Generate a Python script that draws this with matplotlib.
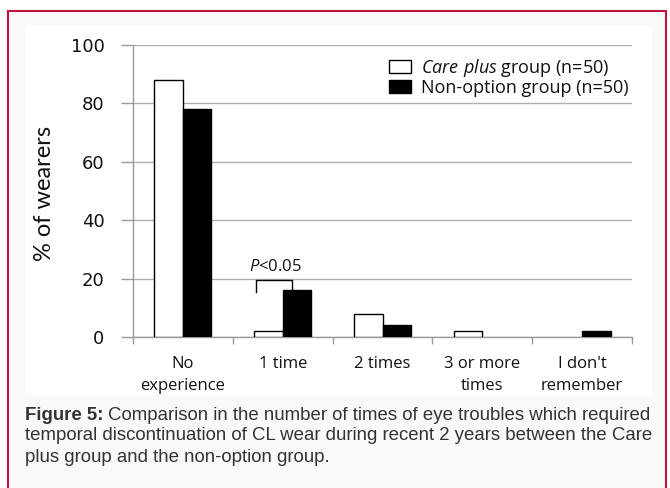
import matplotlib
matplotlib.use("Agg")
import matplotlib.pyplot as plt
from matplotlib.patches import Rectangle, Patch

categories = ["No\nexperience", "1 time", "2 times", "3 or more\ntimes", "I don't\nremember"]
care_plus = [88, 2, 8, 2, 0]
non_option = [78, 16, 4, 0, 2]
yticks = [0, 20, 40, 60, 80, 100]

plt.rcParams['mathtext.fontset'] = 'custom'
plt.rcParams['mathtext.it'] = 'Open Sans:italic'
plt.rcParams['mathtext.rm'] = 'Open Sans'

W, H = 670, 488
fig = plt.figure(figsize=(W / 100, H / 100), dpi=100, facecolor='white')

def fx(px):
    return px / W

def fy(py):
    return 1 - py / H

# outer frame
fig.patches.append(Rectangle((fx(8), fy(520)), fx(666) - fx(8), fy(11) - fy(520),
                             transform=fig.transFigure, facecolor='#fbf8f9',
                             edgecolor='#c0143c', linewidth=1.5, zorder=-2))
# inner white panel
fig.patches.append(Rectangle((fx(26), fy(395)), fx(652) - fx(26), fy(26) - fy(395),
                             transform=fig.transFigure, facecolor='white',
                             edgecolor='none', zorder=-1))

ax = fig.add_axes([fx(133), fy(337), fx(632) - fx(133), fy(45) - fy(337)])
ax.set_facecolor('none')

x = list(range(len(categories)))
bw = 0.285
ax.bar([i - bw / 2 for i in x], care_plus, width=bw, color='white',
       edgecolor='black', linewidth=[1.0 if v > 0 else 0 for v in care_plus], zorder=3)
ax.bar([i + bw / 2 for i in x], non_option, width=bw, color='black',
       edgecolor='black', linewidth=[1.0 if v > 0 else 0 for v in non_option], zorder=3)

ax.set_xlim(-0.5, len(categories) - 0.5)
ax.set_ylim(0, 100)
ax.set_yticks(yticks)
ax.set_yticklabels([str(v) for v in yticks], fontsize=13, family='DejaVu Sans', color='#111111')
ax.yaxis.grid(True, color='#b0b0b0', linewidth=1.0, zorder=0)
ax.set_axisbelow(True)

for s in ['top', 'right']:
    ax.spines[s].set_visible(False)
for s in ['left', 'bottom']:
    ax.spines[s].set_color('#9a9a9a')
    ax.spines[s].set_linewidth(1.0)

ax.tick_params(axis='y', length=9, color='#9a9a9a', width=1.0, pad=11.5)
ax.set_xticks(x)
ax.set_xticklabels(categories, fontsize=12, family='Open Sans', color='#111111', linespacing=1.5)
ax.tick_params(axis='x', length=0, pad=13.5)
ax.set_xticks([i + 0.5 for i in range(-1, len(categories))], minor=True)
ax.tick_params(axis='x', which='minor', length=5, color='#9a9a9a', width=1.0)

ax.set_ylabel('% of wearers', fontsize=17, family='Lato', color='#111111')
ax.yaxis.label.set_va('center')
ax.yaxis.set_label_coords(-0.178, 0.491)

# significance bracket
bx = [0.732, 0.732, 1.093, 1.093]
by = [15.4, 19.5, 19.5, non_option[1]]
ax.plot(bx, by, color='black', lw=1.0, zorder=4)
ax.text(0.923, 24.0, r'$\it{P}$<0.05', ha='center', va='center', fontsize=12,
        family='Open Sans', color='#111111')

handles = [Patch(facecolor='white', edgecolor='black', linewidth=1.0),
           Patch(facecolor='black', edgecolor='black', linewidth=1.0)]
labels = [r'$\it{Care\ plus}$ group (n=50)', 'Non-option group (n=50)']
leg = ax.legend(handles, labels, loc='upper right', bbox_to_anchor=(0.993, 0.96),
                frameon=False, prop={'family': 'Open Sans', 'size': 13},
                handlelength=1.22, handleheight=0.72, handletextpad=0.55,
                labelspacing=0.02, borderaxespad=0, borderpad=0)
for t in leg.get_texts():
    t.set_color('#111111')

# caption
cap_col = '#333333'
cap_size = 13.4
fam = 'Liberation Sans'
t1 = fig.text(fx(25), fy(415), 'Figure 5:', fontsize=cap_size, family=fam,
              weight='bold', color=cap_col, va='center', ha='left')
fig.canvas.draw()
r = fig.canvas.get_renderer()
bb = t1.get_window_extent(renderer=r)
fig.text(bb.x1 / W + fx(4), fy(415),
         'Comparison in the number of times of eye troubles which required',
         fontsize=cap_size, family=fam, color=cap_col, va='center', ha='left')
fig.text(fx(25), fy(436),
         'temporal discontinuation of CL wear during recent 2 years between the Care',
         fontsize=cap_size, family=fam, color=cap_col, va='center', ha='left')
fig.text(fx(25), fy(458), 'plus group and the non-option group.',
         fontsize=cap_size, family=fam, color=cap_col, va='center', ha='left')

fig.savefig('out.png', dpi=100, facecolor='white')
